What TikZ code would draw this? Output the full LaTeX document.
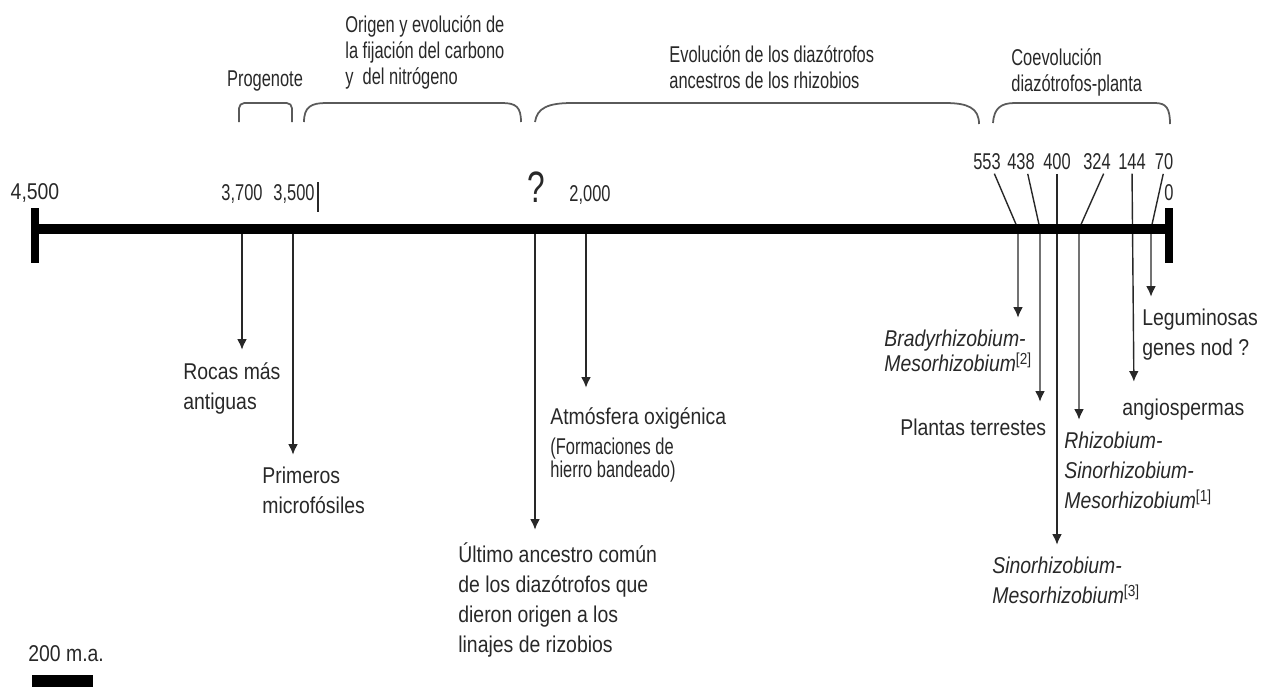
\documentclass[tikz,border=0pt]{standalone}
\usepackage{fontspec}
\setmainfont{Liberation Sans}[FakeStretch=0.85]
\newfontfamily\narrowfont{Liberation Sans}[FakeStretch=0.72]
\usetikzlibrary{arrows.meta}
\definecolor{ink}{RGB}{40,40,40}
\definecolor{bracegray}{RGB}{90,90,90}

\begin{document}
\begin{tikzpicture}[x=0.02cm, y=-0.02cm,
  lbl/.style={anchor=north west, inner sep=0pt, align=left, text=ink,
              font=\fontsize{13}{17.1}\selectfont, execute at begin node=\strut},
  toplbl/.style={anchor=north west, inner sep=0pt, align=left, text=ink,
              font=\narrowfont\fontsize{13}{14.8}\selectfont, execute at begin node=\strut},
  num/.style={inner sep=0pt, text=ink, font=\narrowfont\fontsize{13}{15}\selectfont},
  arr/.style={-{Latex[length=6pt,width=5.5pt]}, line width=0.8pt, color=ink, shorten >=7pt},
  brace/.style={line width=1pt, color=bracegray},
  axisline/.style={line width=5.7pt, color=black},
  endbar/.style={line width=4.6pt, color=black}
]
  \useasboundingbox (0,0) rectangle (1271,687);

  % points on the time line
  \coordinate (x4500) at (35,229);
  \coordinate (x0)    at (1169,229);
  \coordinate (x3700) at (242,229);
  \coordinate (x3500) at (293,229);
  \coordinate (xq)    at (535,229);
  \coordinate (x2000) at (586,229);
  \coordinate (x553)  at (1018,229);
  \coordinate (x438)  at (1040,229);
  \coordinate (x400)  at (1057,229);
  \coordinate (x324)  at (1079,229);
  \coordinate (x144)  at (1134,229);
  \coordinate (x70)   at (1151,229);

  % ages
  \node[num, font=\fontsize{13}{15}\selectfont] (n4500) at (35,193) {4,500};
  \node[num] (n3700) at (242,194) {3,700};
  \node[num] (n3500) at (294,194) {3,500};
  \node[num, font=\narrowfont\fontsize{25}{28}\selectfont] (nq) at (536,187) {?};
  \node[num] (n2000) at (590,195) {2,000};
  \node[num] (n553) at (987,162) {553};
  \node[num] (n438) at (1021,162) {438};
  \node[num] (n400) at (1057,162) {400};
  \node[num] (n324) at (1097,162) {324};
  \node[num] (n144) at (1132,162) {144};
  \node[num] (n70)  at (1164,162) {70};
  \node[num] (n0)   at (1169,193) {0};
  \draw[line width=0.8pt, color=ink] (318,182) -- (318,212);

  % periods
  \node[num] (progenote) at (265,81) {Progenote};
  \node[toplbl] (origen) at (345,15) {Origen y evolución de\\la fijación del carbono\\y\ \ del nitrógeno};
  \node[toplbl] (evolucion) at (669,45) {Evolución de los diazótrofos\\ancestros de los rhizobios};
  \node[toplbl] (coevol) at (1011,48) {Coevolución\\diazótrofos-planta};
  \draw[brace, rounded corners=3pt] (239,122) -- (239,103) -- (292,103) -- (292,122);
  \draw[brace] (304,122) .. controls (304,107) and (311,103) .. (326,103) -- (502,103)
    .. controls (516,103) and (521,107) .. (521,122);
  \draw[brace] (535,122) .. controls (537,108) and (548,103) .. (572,103) -- (945,103)
    .. controls (968,103) and (979,108) .. (979,124);
  \draw[brace] (993,123) .. controls (994,108) and (1001,103) .. (1015,103) -- (1155,103)
    .. controls (1166,103) and (1170,108) .. (1170,124);

  % events
  \node[lbl] (rocas) at (183,362) {Rocas más\\antiguas};
  \node[lbl] (primeros) at (262,467) {Primeros\\microfósiles};
  \node[lbl] (ultimo) at (458,542) {Último ancestro común\\de los diazótrofos que\\dieron origen a los\\linajes de rizobios};
  \node[lbl] (atmosfera) at (550,407) {Atmósfera oxigénica\\\narrowfont(Formaciones de\\[-4pt]\narrowfont hierro bandeado)};
  \node[lbl, font=\itshape\fontsize{13}{17.1}\selectfont] (brady) at (884,330)
    {Bradyrhizobium-\\[-3pt]Mesorhizobium\textsuperscript{\upshape[2]}};
  \node[lbl] (plantas) at (900,414) {Plantas terrestes};
  \node[lbl, font=\itshape\fontsize{13}{17.1}\selectfont] (rhizo) at (1064,432)
    {Rhizobium-\\Sinorhizobium-\\Mesorhizobium\textsuperscript{\upshape[1]}};
  \node[lbl, font=\itshape\fontsize{13}{17.1}\selectfont] (sino) at (992,557)
    {Sinorhizobium-\\Mesorhizobium\textsuperscript{\upshape[3]}};
  \node[lbl] (angio) at (1122,394) {angiospermas};
  \node[lbl] (legum) at (1142,309) {Leguminosas\\genes nod ?};

  \draw[arr] (x3700) -- (x3700 |- rocas.north);
  \draw[arr] (x3500) -- (x3500 |- primeros.north);
  \draw[arr] (xq) -- (xq |- ultimo.north);
  \draw[arr, shorten >=11pt] (x2000) -- (x2000 |- atmosfera.north);
  \draw[arr, shorten <=2pt] ([xshift=3.4pt]n553.south) -- (x553) -- (x553 |- brady.north);
  \draw[arr, shorten <=2pt] ([xshift=3.4pt]n438.south) -- (x438) -- (x438 |- plantas.north);
  \draw[arr, shorten <=2pt] (n400.south) -- (x400 |- sino.north);
  \draw[arr, shorten <=2pt] ([xshift=4.6pt]n324.south) -- (x324) -- (x324 |- rhizo.north);
  \draw[arr, shorten <=2pt] (n144.south) -- (x144 |- angio.north);
  \draw[arr, shorten <=2pt] (n70.south) -- (x70) -- (x70 |- legum.north);

  \draw[axisline] (x4500) -- (x0);
  \draw[endbar] (35,208) -- (35,263);
  \draw[endbar] (1169,208) -- (1169,263);

  % scale
  \node[lbl] (escala) at (28,640) {200 m.a.};
  \fill (32,675) rectangle (93,687);
\end{tikzpicture}
\end{document}
